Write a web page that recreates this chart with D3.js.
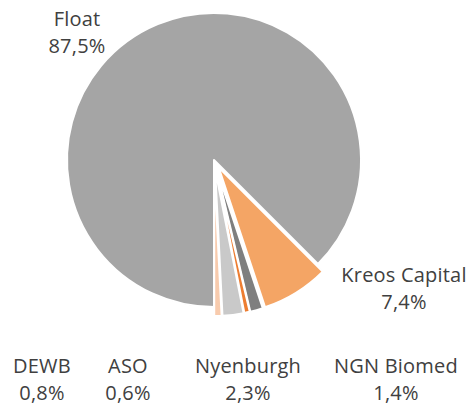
<!DOCTYPE html>
<html><head><meta charset="utf-8">
<script src="https://cdn.jsdelivr.net/npm/d3@7"></script>
<style>body{margin:0;background:#fff}svg{display:block}</style>
</head><body>
<script>
const categories = ["Kreos Capital", "NGN Biomed", "ASO", "Nyenburgh", "DEWB", "Float"];
const values = [7.4, 1.4, 0.6, 2.3, 0.8, 87.5];
const colors = ["#f4a565", "#7f7f7f", "#ed7d31", "#c9c9c9", "#f8cbad", "#a5a5a5"];
const exploded = [true, true, true, true, true, false];
// label anchor points (layout only): x centre, first-line baseline
const labelPos = [[404, 282], [396, 373], [128, 373], [248, 373], [42, 373], [77, 26]];

const W = 475, H = 405;
const cx = 214, cy = 160, R = 147, explode = 9;
const svg = d3.select("body").append("svg").attr("width", W).attr("height", H);

const pie = d3.pie().sort(null).value(d => d)
  .startAngle(135 * Math.PI / 180).endAngle(135 * Math.PI / 180 + 2 * Math.PI);
const arcs = pie(values);
const arc = d3.arc().innerRadius(0).outerRadius(R);

const g = svg.append("g").attr("transform", `translate(${cx},${cy})`);
g.selectAll("path").data(arcs).join("path")
  .attr("d", arc)
  .attr("fill", (d, i) => colors[i])
  .attr("stroke", "#fff").attr("stroke-width", 2).attr("stroke-linejoin", "round")
  .attr("transform", (d, i) => {
    if (!exploded[i]) return null;
    const a = (d.startAngle + d.endAngle) / 2;
    return `translate(${explode * Math.sin(a)},${-explode * Math.cos(a)})`;
  });

const fmt = v => v.toFixed(1).replace(".", ",") + "%";
const lab = svg.append("g").attr("font-family", "'Open Sans', sans-serif")
  .attr("font-size", 20).attr("fill", "#404040").attr("text-anchor", "middle")
  .attr("letter-spacing", 0.2);
categories.forEach((c, i) => {
  const [x, y] = labelPos[i];
  const t = lab.append("text").attr("x", x).attr("y", y);
  t.append("tspan").attr("x", x).attr("dy", 0).text(c);
  t.append("tspan").attr("x", x).attr("dy", 27).text(fmt(values[i]));
});
</script>
</body></html>
